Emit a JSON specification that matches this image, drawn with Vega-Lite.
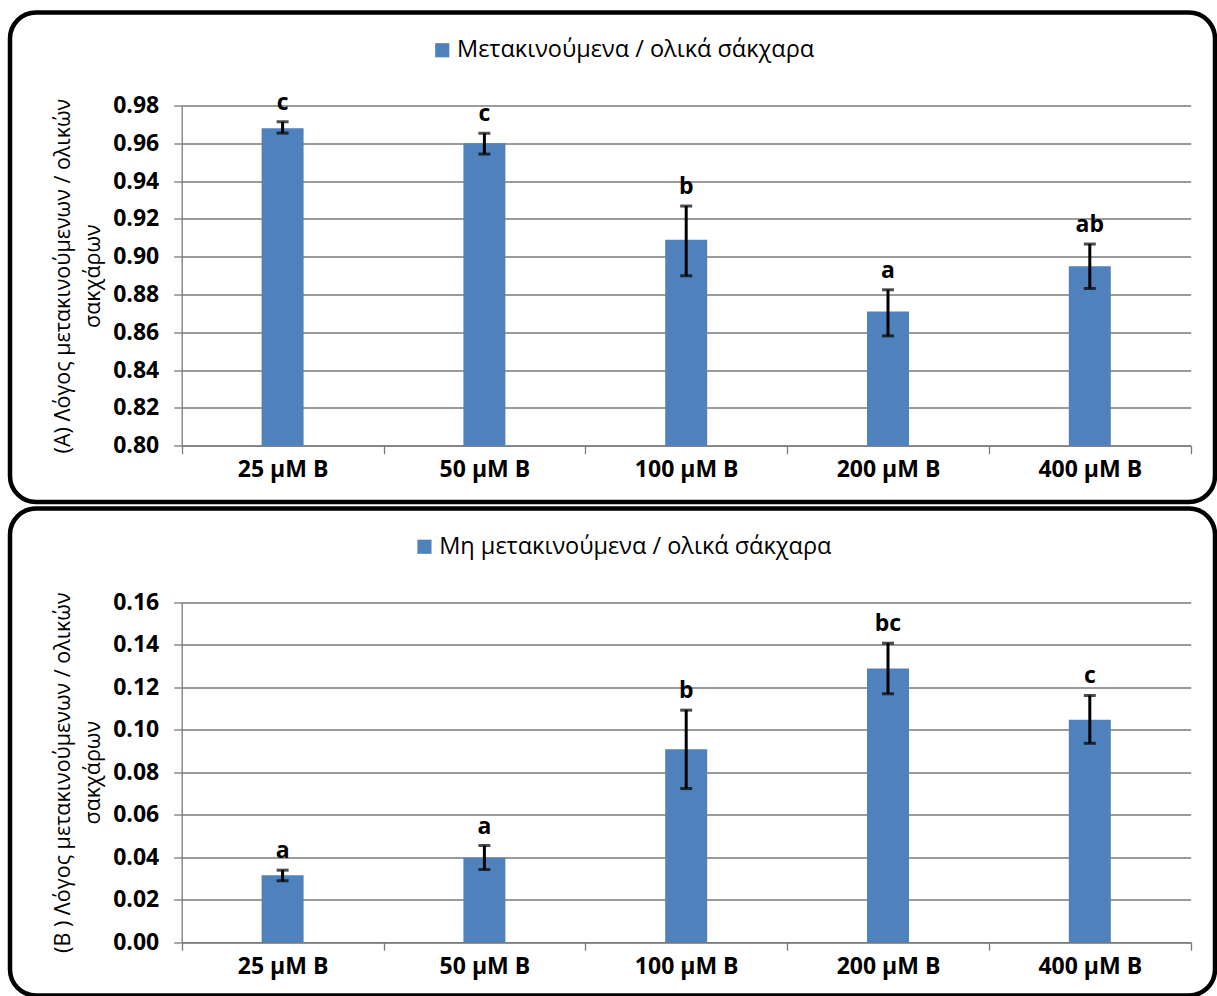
{
  "$schema": "https://vega.github.io/schema/vega-lite/v6.json",
  "background": "white",
  "padding": {"left": 7, "top": 9.5, "right": 0, "bottom": 0},
  "spacing": 1,
  "resolve": {"scale": {"color": "independent"}, "legend": {"color": "independent"}},
  "config": {
    "font": "Open Sans",
    "view": {"stroke": "black", "strokeWidth": 4.5, "cornerRadius": 26, "fill": "white"},
    "axis": {
      "domainColor": "#7a7a7a",
      "tickColor": "#7a7a7a",
      "gridColor": "#7a7a7a",
      "domainWidth": 1.3,
      "tickWidth": 1.3,
      "gridWidth": 1.3,
      "labelFont": "Open Sans",
      "labelFontWeight": "bold",
      "labelFontSize": 23,
      "labelColor": "black",
      "titleFont": "Open Sans",
      "titleFontWeight": "normal",
      "titleFontSize": 21.5,
      "titleColor": "black",
      "tickSize": 8
    },
    "legend": {
      "symbolType": "square",
      "symbolSize": 200,
      "symbolStrokeWidth": 0,
      "labelFont": "Open Sans",
      "labelFontSize": 23.5,
      "labelColor": "black",
      "labelLimit": 600,
      "padding": 0,
      "labelOffset": 3
    }
  },
  "vconcat": [
    {
      "width": 1205,
      "height": 489.5,
      "data": {"values": [
        {"dose": "25 µM B", "value": 0.968, "lo": 0.9654, "hi": 0.9714, "letter": "c", "series": "Μετακινούμενα / ολικά σάκχαρα"},
        {"dose": "50 µM B", "value": 0.960, "lo": 0.9543, "hi": 0.9653, "letter": "c", "series": "Μετακινούμενα / ολικά σάκχαρα"},
        {"dose": "100 µM B", "value": 0.909, "lo": 0.8899, "hi": 0.9268, "letter": "b", "series": "Μετακινούμενα / ολικά σάκχαρα"},
        {"dose": "200 µM B", "value": 0.871, "lo": 0.8581, "hi": 0.8825, "letter": "a", "series": "Μετακινούμενα / ολικά σάκχαρα"},
        {"dose": "400 µM B", "value": 0.895, "lo": 0.8832, "hi": 0.9067, "letter": "ab", "series": "Μετακινούμενα / ολικά σάκχαρα"}
      ]},
      "encoding": {
        "x": {
          "field": "dose", "type": "nominal",
          "sort": ["25 µM B", "50 µM B", "100 µM B", "200 µM B", "400 µM B"],
          "scale": {"range": [171.7, 1180.7], "paddingInner": 0, "paddingOuter": 0},
          "axis": {"title": null, "orient": "bottom", "offset": -56.3, "tickBand": "extent", "labelAngle": 0, "labelPadding": 5, "grid": false}
        }
      },
      "layer": [
        {
          "mark": {"type": "bar", "width": {"band": 0.208}},
          "encoding": {
            "y": {
              "field": "value", "type": "quantitative",
              "scale": {"domain": [0.8, 0.98], "range": [433.2, 93], "zero": false, "nice": false},
              "axis": {
                "orient": "left", "offset": -171.7,
                "values": [0.8, 0.82, 0.84, 0.86, 0.88, 0.9, 0.92, 0.94, 0.96, 0.98],
                "format": ".2f", "grid": true, "labelPadding": 15,
                "title": ["(A)  Λόγος μετακινούμενων / ολικών", "σακχάρων"],
                "titlePadding": 8, "titleLineHeight": 30
              }
            },
            "y2": {"datum": 0.8},
            "color": {
              "field": "series", "type": "nominal",
              "scale": {"range": ["#4F81BD"]},
              "legend": {"orient": "none", "legendX": 420.5, "legendY": 26, "title": null}
            }
          }
        },
        {
          "mark": {"type": "rule", "color": "black", "strokeWidth": 3},
          "encoding": {"y": {"field": "lo", "type": "quantitative"}, "y2": {"field": "hi"}}
        },
        {
          "mark": {"type": "tick", "color": "black", "size": 12, "thickness": 3},
          "encoding": {"y": {"field": "lo", "type": "quantitative"}}
        },
        {
          "mark": {"type": "tick", "color": "black", "size": 12, "thickness": 3},
          "encoding": {"y": {"field": "hi", "type": "quantitative"}}
        },
        {
          "mark": {"type": "text", "font": "Open Sans", "fontWeight": "bold", "fontSize": 23, "color": "black", "baseline": "alphabetic", "align": "center", "dy": -12},
          "encoding": {"y": {"field": "hi", "type": "quantitative"}, "text": {"field": "letter"}}
        }
      ]
    },
    {
      "width": 1205,
      "height": 487,
      "data": {"values": [
        {"dose": "25 µM B", "value": 0.0315, "lo": 0.0289, "hi": 0.0339, "letter": "a", "series": "Μη μετακινούμενα / ολικά σάκχαρα"},
        {"dose": "50 µM B", "value": 0.0397, "lo": 0.0342, "hi": 0.0455, "letter": "a", "series": "Μη μετακινούμενα / ολικά σάκχαρα"},
        {"dose": "100 µM B", "value": 0.0908, "lo": 0.0723, "hi": 0.1092, "letter": "b", "series": "Μη μετακινούμενα / ολικά σάκχαρα"},
        {"dose": "200 µM B", "value": 0.1288, "lo": 0.1169, "hi": 0.1407, "letter": "bc", "series": "Μη μετακινούμενα / ολικά σάκχαρα"},
        {"dose": "400 µM B", "value": 0.1047, "lo": 0.0936, "hi": 0.1161, "letter": "c", "series": "Μη μετακινούμενα / ολικά σάκχαρα"}
      ]},
      "encoding": {
        "x": {
          "field": "dose", "type": "nominal",
          "sort": ["25 µM B", "50 µM B", "100 µM B", "200 µM B", "400 µM B"],
          "scale": {"range": [171.7, 1180.7], "paddingInner": 0, "paddingOuter": 0},
          "axis": {"title": null, "orient": "bottom", "offset": -53.3, "tickBand": "extent", "labelAngle": 0, "labelPadding": 5, "grid": false}
        }
      },
      "layer": [
        {
          "mark": {"type": "bar", "width": {"band": 0.208}},
          "encoding": {
            "y": {
              "field": "value", "type": "quantitative",
              "scale": {"domain": [0, 0.16], "range": [433.7, 93.7], "nice": false},
              "axis": {
                "orient": "left", "offset": -171.7,
                "values": [0, 0.02, 0.04, 0.06, 0.08, 0.1, 0.12, 0.14, 0.16],
                "format": ".2f", "grid": true, "labelPadding": 15,
                "title": ["(B ) Λόγος μετακινούμενων / ολικών", "σακχάρων"],
                "titlePadding": 8, "titleLineHeight": 30
              }
            },
            "y2": {"datum": 0},
            "color": {
              "field": "series", "type": "nominal",
              "scale": {"range": ["#4F81BD"]},
              "legend": {"orient": "none", "legendX": 402.7, "legendY": 26.5, "title": null}
            }
          }
        },
        {
          "mark": {"type": "rule", "color": "black", "strokeWidth": 3},
          "encoding": {"y": {"field": "lo", "type": "quantitative"}, "y2": {"field": "hi"}}
        },
        {
          "mark": {"type": "tick", "color": "black", "size": 12, "thickness": 3},
          "encoding": {"y": {"field": "lo", "type": "quantitative"}}
        },
        {
          "mark": {"type": "tick", "color": "black", "size": 12, "thickness": 3},
          "encoding": {"y": {"field": "hi", "type": "quantitative"}}
        },
        {
          "mark": {"type": "text", "font": "Open Sans", "fontWeight": "bold", "fontSize": 23, "color": "black", "baseline": "alphabetic", "align": "center", "dy": -12},
          "encoding": {"y": {"field": "hi", "type": "quantitative"}, "text": {"field": "letter"}}
        }
      ]
    }
  ]
}
